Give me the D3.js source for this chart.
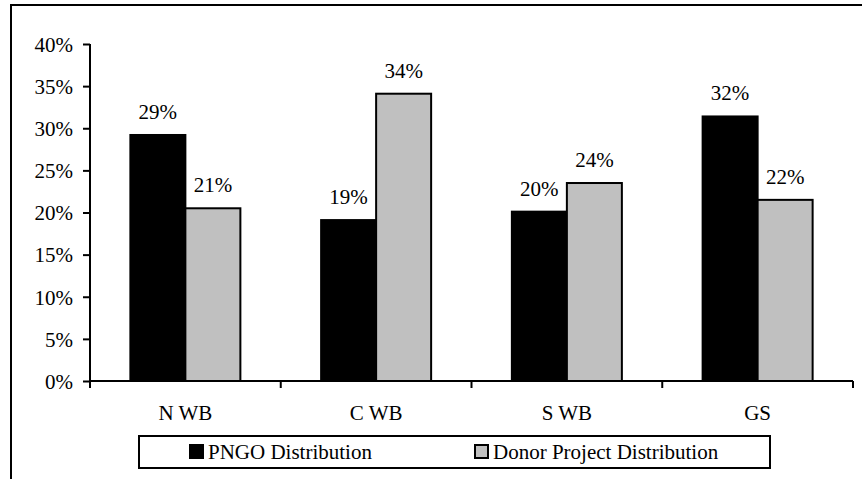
<!DOCTYPE html>
<html>
<head>
<meta charset="utf-8">
<script src="https://cdn.jsdelivr.net/npm/d3@7"></script>
<style>
  html, body { margin: 0; padding: 0; background: #fff; }
  svg { display: block; }
  text { font-family: "Liberation Serif", "Times New Roman", serif; fill: #000; }
</style>
</head>
<body>
<script>
const categories = ["N WB", "C WB", "S WB", "GS"];
const seriesNames = ["PNGO Distribution", "Donor Project Distribution"];
const pngoValues = [0.292, 0.191, 0.201, 0.314];
const donorValues = [0.205, 0.341, 0.235, 0.215];
const valueLabels = [["29%", "21%"], ["19%", "34%"], ["20%", "24%"], ["32%", "22%"]];
const yTicks = [0, 0.05, 0.10, 0.15, 0.20, 0.25, 0.30, 0.35, 0.40];
const colors = ["#000000", "#c0c0c0"];

const W = 862, H = 479;
const svg = d3.select("body").append("svg").attr("width", W).attr("height", H);

// outer frame
svg.append("rect").attr("x", 11).attr("y", 5).attr("width", 900).attr("height", 600)
  .attr("fill", "none").attr("stroke", "#000").attr("stroke-width", 2);

const x0 = d3.scaleBand().domain(categories).range([90, 853]).padding(0);
const x1 = d3.scaleBand().domain(seriesNames).range([0, x0.bandwidth()]).paddingInner(0).paddingOuter(0.734);
const y = d3.scaleLinear().domain([0, 0.40]).range([381, 44]);

const data = categories.map((c, i) => ({
  cat: c,
  vals: [pngoValues[i], donorValues[i]],
  labels: valueLabels[i]
}));

// bars
const g = svg.append("g");
data.forEach(d => {
  seriesNames.forEach((s, j) => {
    g.append("rect")
      .attr("x", x0(d.cat) + x1(s))
      .attr("y", y(d.vals[j]))
      .attr("width", x1.bandwidth())
      .attr("height", y(0) - y(d.vals[j]))
      .attr("fill", colors[j])
      .attr("stroke", "#000").attr("stroke-width", 2);
    g.append("text")
      .attr("x", x0(d.cat) + x1(s) + x1.bandwidth() / 2)
      .attr("y", y(d.vals[j]) - 16)
      .attr("text-anchor", "middle")
      .attr("font-size", 21)
      .text(d.labels[j]);
  });
});

// y axis
const yAxis = d3.axisLeft(y).tickValues(yTicks).tickFormat(d3.format(".0%")).tickSize(7).tickPadding(10);
const ya = svg.append("g").attr("transform", "translate(90,0)").call(yAxis);
ya.select(".domain").attr("stroke", "#000").attr("stroke-width", 2).attr("d", "M90,0").remove();
ya.selectAll(".tick line").attr("stroke", "#000").attr("stroke-width", 2);
ya.selectAll(".tick text").attr("font-size", 21).attr("font-family", "Liberation Serif, Times New Roman, serif").attr("dy", "0.35em");
svg.append("line").attr("x1", 90).attr("x2", 90).attr("y1", y(0.40)).attr("y2", y(0))
  .attr("stroke", "#000").attr("stroke-width", 2);

// x axis
const xTickPos = categories.map(c => x0(c)).concat([x0.range()[1]]);
svg.append("line").attr("x1", 90).attr("x2", 853).attr("y1", y(0)).attr("y2", y(0))
  .attr("stroke", "#000").attr("stroke-width", 2);
svg.selectAll(".xtick").data(xTickPos).enter().append("line")
  .attr("x1", d => d).attr("x2", d => d).attr("y1", y(0)).attr("y2", y(0) + 7)
  .attr("stroke", "#000").attr("stroke-width", 2);
svg.selectAll(".xlab").data(categories).enter().append("text")
  .attr("x", d => x0(d) + x0.bandwidth() / 2)
  .attr("y", 420)
  .attr("text-anchor", "middle")
  .attr("font-size", 21)
  .text(d => d);

// legend
const lg = svg.append("g");
lg.append("rect").attr("x", 139).attr("y", 436).attr("width", 631).attr("height", 32)
  .attr("fill", "#fff").attr("stroke", "#000").attr("stroke-width", 2);
const legendX = [190, 475];
seriesNames.forEach((s, j) => {
  lg.append("rect").attr("x", legendX[j]).attr("y", 445).attr("width", 13).attr("height", 13)
    .attr("fill", colors[j]).attr("stroke", "#000").attr("stroke-width", 2);
  lg.append("text").attr("x", legendX[j] + 18).attr("y", 459)
    .attr("font-size", 21).text(s);
});
</script>
</body>
</html>
